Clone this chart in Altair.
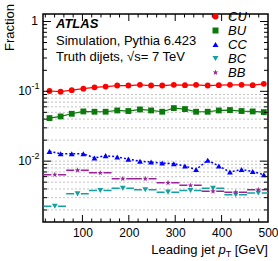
import altair as alt
import pandas as pd

# Leading-jet pT bin centres (GeV) for the fine binning and edges of the coarse binning
pt_fine = [29, 53, 77, 102, 126, 150, 175, 199, 224, 248,
           272, 297, 321, 345, 370, 394, 418, 443, 467, 491]
pt_coarse_edges = [16, 65, 114, 163, 211, 260, 309, 357, 406, 455, 503]

# Flavour fractions per bin
frac_cu = [0.101, 0.099, 0.104, 0.109, 0.114, 0.117, 0.121, 0.121, 0.124, 0.121,
           0.121, 0.124, 0.1225, 0.124, 0.121, 0.1225, 0.124, 0.124, 0.1225, 0.128]
frac_bu = [0.0414, 0.0437, 0.0477, 0.0515, 0.0510, 0.0510, 0.0532, 0.0522, 0.0550, 0.0532,
           0.0510, 0.0575, 0.0557, 0.0510, 0.0510, 0.0532, 0.0539, 0.0522, 0.0515, 0.0504]
frac_cc = [0.0138, 0.0128, 0.0128, 0.0128, 0.0111, 0.0120, 0.0115, 0.0107, 0.0100, 0.0097,
           0.0094, 0.0092, 0.0085, 0.0076, 0.0103, 0.0085, 0.0070, 0.0076, 0.0071, 0.0064]
frac_bc = [0.00226, 0.0034, 0.0038, 0.0041, 0.0039, 0.0036, 0.0038, 0.0041, 0.0033, 0.0035]
frac_bb = [0.0064, 0.0074, 0.0068, 0.0056, 0.0056, 0.0049, 0.0045, 0.0037, 0.0036, 0.0039]

series = ["CU", "BU", "CC", "BC", "BB"]
colors = ["#ff0000", "#0b7a0b", "#0000ff", "#14a0a0", "#992299"]
STAR = ("M0,-1L0.235,-0.324L0.951,-0.309L0.38,0.124L0.588,0.809L0,0.4"
        "L-0.588,0.809L-0.38,0.124L-0.951,-0.309L-0.235,-0.324Z")
shapes = ["circle", "square", "triangle-up", "triangle-down", STAR]

x_labels = [100, 200, 300, 400, 500]
FONT = "Liberation Sans"
W, H = 225, 208

# ---- long tables -------------------------------------------------------
rows = []
for name, vals in (("CU", frac_cu), ("BU", frac_bu), ("CC", frac_cc)):
    for p, v in zip(pt_fine, vals):
        rows.append({"series": name, "pt": p, "frac": v})
for name, vals in (("BC", frac_bc), ("BB", frac_bb)):
    for i, v in enumerate(vals):
        lo, hi = pt_coarse_edges[i], pt_coarse_edges[i + 1]
        rows.append({"series": name, "pt": (lo + hi) / 2, "lo": lo, "hi": hi, "frac": v})
df = pd.DataFrame(rows)

xs = alt.Scale(domain=[15, 500], nice=False, zero=False)
ys = alt.Scale(type="log", domain=[0.001345, 1.28], nice=False)
xaxis = alt.Axis(values=x_labels, ticks=False, domain=False, grid=False,
                 labelFontSize=12, labelFont=FONT, labelColor="black",
                 labelPadding=5, labelFlush=False, labelOverlap=False, title=None)
X = lambda f: alt.X(f, type="quantitative", scale=xs, axis=xaxis)
Y = lambda f: alt.Y(f, type="quantitative", scale=ys, axis=None)

# ---- grid lines ----------------------------------------------------------
grid_vals = [k * 1e-3 for k in range(2, 10)] + [0.01] + [k * 1e-2 for k in range(2, 10)]
grid = alt.Chart(pd.DataFrame({"v": grid_vals})).mark_rule(
    color="#b4b4b4", strokeWidth=0.8, strokeDash=[2, 2]
).encode(y=Y("v"), x=alt.value(0), x2=alt.value(W))

# ---- data ---------------------------------------------------------------
layers = [grid]
col = dict(zip(series, colors))
for name, dash, sw in (("CU", None, 1.2), ("BU", None, 1.2), ("CC", [2, 2], 1.5)):
    kw = dict(color=col[name], strokeWidth=sw)
    if dash:
        kw["strokeDash"] = dash
    layers.append(alt.Chart(df[df.series == name]).mark_line(**kw).encode(
        x=X("pt"), y=Y("frac")))
for name in ("BC", "BB"):
    layers.append(alt.Chart(df[df.series == name]).mark_rule(
        color=col[name], strokeWidth=1.5, strokeDash=[8, 6.6], clip=True
    ).encode(x=X("lo"), x2="hi", y=Y("frac")))

leg = dict(orient="none", legendX=166, legendY=-4, title=None, padding=0,
           labelFont=FONT, labelFontSize=13, labelFontStyle="italic",
           labelColor="black", labelOffset=6, symbolSize=36, rowPadding=0,
           symbolStrokeWidth=0)
points = alt.Chart(df).mark_point(filled=True, opacity=1, size=34).encode(
    x=X("pt"), y=Y("frac"),
    color=alt.Color("series:N", scale=alt.Scale(domain=series, range=colors),
                    legend=alt.Legend(**leg)),
    shape=alt.Shape("series:N", scale=alt.Scale(domain=series, range=shapes),
                    legend=alt.Legend(**leg)),
)
layers.append(points)

# ---- inward ticks on all four sides --------------------------------------
x_major = [100, 200, 300, 400]
x_minor = [v for v in range(20, 500, 20) if v % 100]
y_major = [0.01, 0.1, 1]
y_minor = [k * 1e-3 for k in range(2, 10)] + [k * 1e-2 for k in range(2, 10)] + [k * 0.1 for k in range(2, 10)]

def xticks(vals, ln):
    d = alt.Chart(pd.DataFrame({"v": vals}))
    b = d.mark_rule(color="black", strokeWidth=1).encode(x=X("v"), y=alt.value(H), y2=alt.value(H - ln))
    t = d.mark_rule(color="black", strokeWidth=1).encode(x=X("v"), y=alt.value(0), y2=alt.value(ln))
    return [b, t]

def yticks(vals, ln):
    d = alt.Chart(pd.DataFrame({"v": vals}))
    l = d.mark_rule(color="black", strokeWidth=1).encode(y=Y("v"), x=alt.value(0), x2=alt.value(ln))
    r = d.mark_rule(color="black", strokeWidth=1).encode(y=Y("v"), x=alt.value(W), x2=alt.value(W - ln))
    return [l, r]

layers += xticks(x_major, 7) + xticks(x_minor, 3.5) + yticks(y_major, 8) + yticks(y_minor, 4)

# ---- y tick labels (powers of ten) ---------------------------------------
ylab = pd.DataFrame({"v": [1, 0.1, 0.01], "main": ["1", "10", "10"], "exp": ["", "-1", "-2"]})
layers.append(alt.Chart(ylab[ylab.v == 1]).mark_text(
    align="right", baseline="middle", font=FONT, fontSize=12, color="black"
).encode(y=Y("v"), x=alt.value(-5), text="main:N"))
layers.append(alt.Chart(ylab[ylab.v < 1]).mark_text(
    align="right", baseline="middle", font=FONT, fontSize=12, color="black"
).encode(y=Y("v"), x=alt.value(-11.5), text="main:N"))
layers.append(alt.Chart(ylab[ylab.v < 1]).mark_text(
    align="left", baseline="middle", font=FONT, fontSize=9, color="black", dy=-5
).encode(y=Y("v"), x=alt.value(-11.5), text="exp:N"))

# ---- free text ----------------------------------------------------------
def txt(s, x, y, size=13, **kw):
    base = dict(align="left", baseline="middle", font=FONT, fontSize=size, color="black")
    base.update(kw)
    return alt.Chart(pd.DataFrame({"t": [s]})).mark_text(**base).encode(
        text="t:N", x=alt.value(x), y=alt.value(y))

layers += [
    txt("ATLAS", 13, 10, fontWeight="bold", fontStyle="italic"),
    txt("Simulation, Pythia 6.423", 13, 26.7),
    txt("Truth dijets, \u221as= 7 TeV", 13, 42.7),
    txt("Fraction", -33, -10, angle=270, align="right"),
    txt("[GeV]", 225, 236, align="right"),
    txt("T", 188.2, 240, size=9, align="right"),
    txt("p", 182.7, 236, align="right", fontStyle="italic"),
    txt("Leading jet", 171.9, 236, align="right"),
]

chart = alt.layer(*layers).properties(
    width=W, height=H,
    padding={"left": 43, "top": 14, "right": 10, "bottom": 39},
    autosize=alt.AutoSizeParams(type="none"),
).configure_view(stroke="black", strokeWidth=1.5)

chart.save("out.html", embed_options={"renderer": "svg", "actions": False})
